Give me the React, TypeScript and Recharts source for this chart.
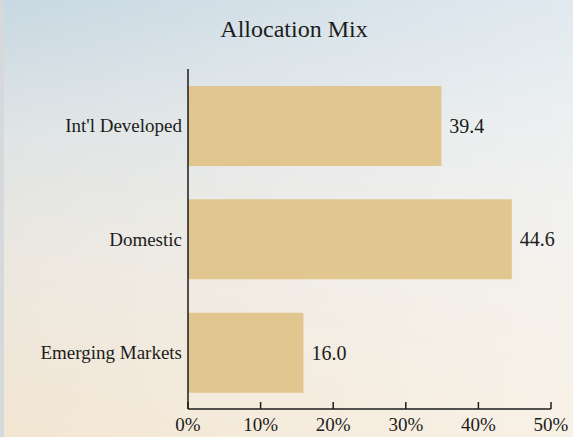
import { BarChart, Bar, XAxis, YAxis, LabelList } from 'recharts';

const categories = ["Int'l Developed", 'Domestic', 'Emerging Markets'];
// printed share (%) next to each bar
const shares = ['39.4', '44.6', '16.0'];
// bar lengths as drawn in the picture (%)
const barLengths = [34.9, 44.6, 15.9];
const xTicks = [0, 10, 20, 30, 40, 50];

const data = categories.map((name, i) => ({ name, value: barLengths[i], label: shares[i] }));

const FONT = '"Liberation Serif", "Times New Roman", serif';
const INK = '#1c1c1c';

function XTick({ x, y, payload }: any) {
    return (
        <g>
            <line x1={x} x2={x} y1={y} y2={y - 7} stroke={INK} strokeWidth={1.5} />
            <text x={x} y={y + 22} textAnchor="middle" fontFamily={FONT} fontSize={19} fill={INK}>
                {`${payload.value}%`}
            </text>
        </g>
    );
}

export default function App() {
    return (
        <div
            style={{
                position: 'absolute', left: 0, top: 0, width: 573, height: 437, overflow: 'hidden',
                background:
                    'linear-gradient(to right, rgba(255,255,255,0) 0%, rgba(255,255,255,0.45) 100%),' +
                    'linear-gradient(to bottom, #c8d8e2 0%, #dfe4e5 30%, #ece8e0 60%, #f3e6d2 100%)',
            }}
        >
            <div style={{ position: 'absolute', left: 0, top: 0, width: 4, height: 437, background: '#d5d9dc' }} />
            <div
                style={{
                    position: 'absolute', left: 294, top: 17, transform: 'translateX(-50%)',
                    fontFamily: FONT, fontSize: 24, lineHeight: '24px', color: INK, whiteSpace: 'nowrap',
                }}
            >
                Allocation Mix
            </div>
            <BarChart
                width={573}
                height={437}
                data={data}
                layout="vertical"
                margin={{ top: 69, right: 22, bottom: 0, left: 0 }}
                style={{ position: 'absolute', left: 0, top: 0 }}
            >
                <XAxis
                    type="number"
                    domain={[0, 50]}
                    ticks={xTicks}
                    height={28}
                    tickSize={0}
                    tickMargin={0}
                    tickLine={false}
                    axisLine={{ stroke: INK, strokeWidth: 1.5 }}
                    tick={<XTick />}
                />
                <YAxis
                    type="category"
                    dataKey="name"
                    width={188}
                    tickSize={0}
                    tickMargin={6}
                    tickLine={false}
                    axisLine={{ stroke: INK, strokeWidth: 1.5 }}
                    tick={{ fontFamily: FONT, fontSize: 19, fill: INK }}
                />
                <Bar dataKey="value" fill="#e2c68f" barSize={80} isAnimationActive={false}>
                    <LabelList
                        dataKey="label"
                        position="right"
                        offset={8}
                        style={{ fontFamily: FONT, fontSize: 20, fill: INK }}
                    />
                </Bar>
            </BarChart>
        </div>
    );
}
